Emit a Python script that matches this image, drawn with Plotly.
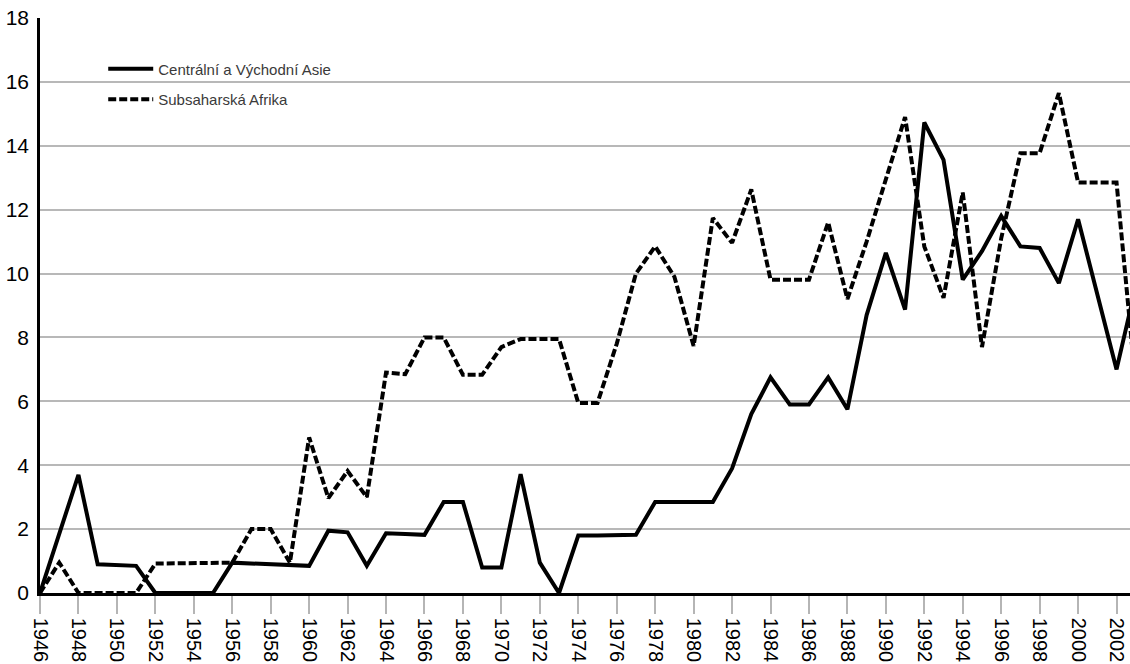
import plotly.graph_objects as go

# Years on the horizontal axis
years = list(range(1946, 2004))

# Central and East Asia
asia = [0.0, 1.85, 3.7, 0.9, 0.88, 0.85, 0.0, 0.0, 0.0, 0.0,
        0.95, 0.93, 0.9, 0.87, 0.85, 1.95, 1.9, 0.85, 1.87, 1.85,
        1.82, 2.85, 2.85, 0.8, 0.8, 3.72, 0.95, 0.0, 1.8, 1.8,
        1.82, 1.82, 2.85, 2.85, 2.85, 2.85, 3.9, 5.6, 6.75, 5.9,
        5.9, 6.75, 5.75, 8.7, 10.65, 8.87, 14.73, 13.56, 9.81, 10.7,
        11.8, 10.85, 10.8, 9.7, 11.7, 9.35, 7.0, 9.6]

# Sub-Saharan Africa
africa = [0.0, 0.95, 0.0, 0.0, 0.0, 0.0, 0.92, 0.92, 0.92, 0.92,
          0.95, 2.0, 2.0, 0.95, 4.87, 2.97, 3.82, 3.0, 6.9, 6.85,
          8.0, 8.0, 6.83, 6.83, 7.7, 7.95, 7.95, 7.95, 5.95, 5.95,
          7.8, 10.0, 10.85, 9.9, 7.73, 11.74, 10.96, 12.63, 9.81, 9.81,
          9.81, 11.6, 9.2, 11.0, 12.9, 14.9, 10.85, 9.24, 12.54, 7.7,
          11.1, 13.77, 13.77, 15.65, 12.85, 12.85, 12.85, 6.5]

tick_years = list(range(1946, 2003, 2))
y_ticks = list(range(0, 19, 2))

FONT = "Liberation Sans, Arial, sans-serif"

fig = go.Figure()
fig.add_trace(go.Scatter(
    x=years, y=asia, mode="lines", name="Centrální a Východní Asie",
    legendgroup="asia",
    line=dict(color="black", width=4, dash="solid"),
))
fig.add_trace(go.Scatter(
    x=years, y=africa, mode="lines", name="Subsaharská Afrika",
    legendgroup="africa",
    line=dict(color="black", width=4, dash="8px,3px"),
))

fig.update_layout(
    width=1130, height=664,
    margin=dict(l=40, r=0, t=18, b=71),
    paper_bgcolor="white", plot_bgcolor="white",
    font=dict(family=FONT, color="black"),
    showlegend=True,
    legend=dict(
        x=0.058, y=0.94, xanchor="left", yanchor="top",
        bgcolor="rgba(0,0,0,0)", borderwidth=0,
        font=dict(family=FONT, size=15, color="#3a3a3a"),
        itemwidth=45, traceorder="grouped", tracegroupgap=8,
    ),
    xaxis=dict(
        range=[1946, 2002.7],
        tickmode="array", tickvals=tick_years,
        ticktext=[str(v) for v in tick_years],
        tickangle=90,
        tickfont=dict(family=FONT, size=20, color="black"),
        ticks="outside", ticklen=18, tickwidth=2, tickcolor="#b5b5b5",
        ticklabelstandoff=0,
        showgrid=False, zeroline=False,
        showline=True, linecolor="black", linewidth=2.5,
        automargin=False, fixedrange=True,
    ),
    yaxis=dict(
        range=[0, 18],
        tickmode="array", tickvals=y_ticks,
        tickfont=dict(family=FONT, size=21, color="black"),
        ticks="", ticklabelstandoff=4,
        showgrid=True, gridcolor="#b8b8b8", gridwidth=2,
        zeroline=False,
        showline=True, linecolor="black", linewidth=2.5,
        automargin=False, fixedrange=True,
    ),
)

fig.write_html("out.html")
